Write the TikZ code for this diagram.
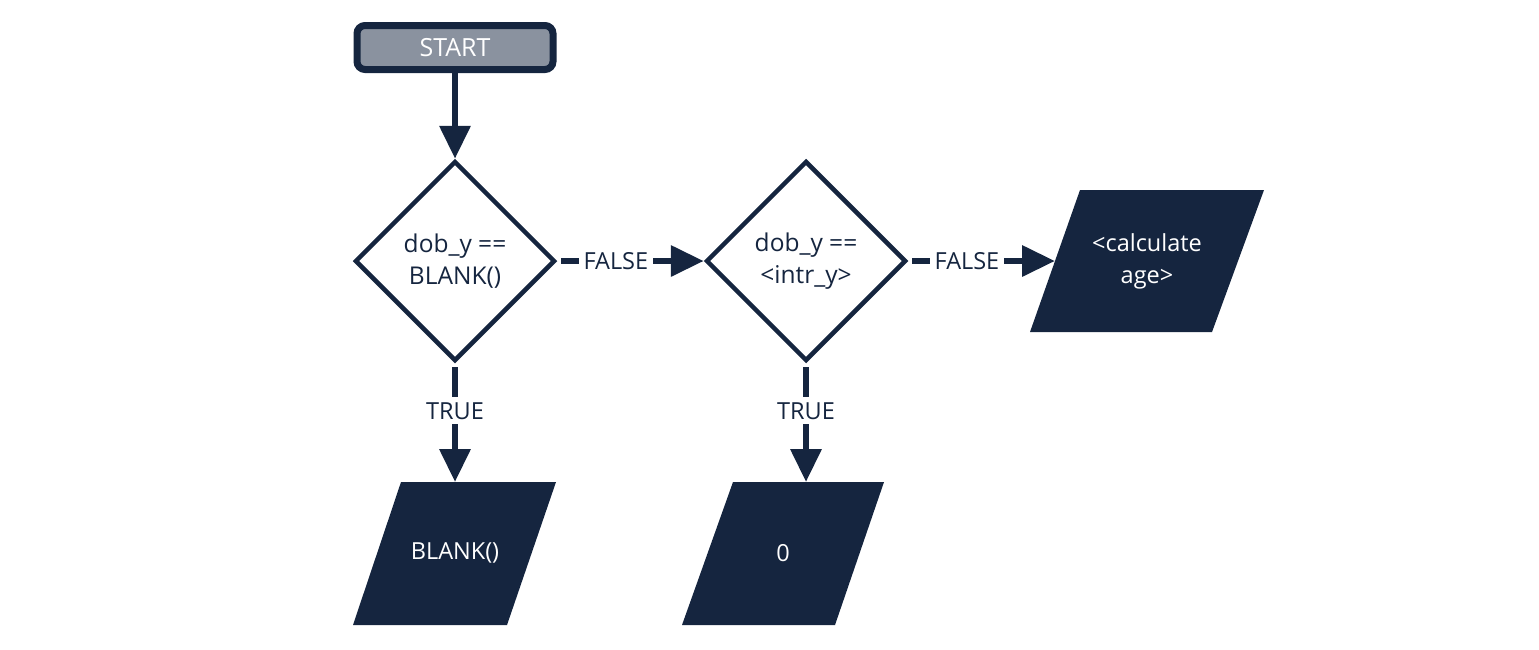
\documentclass[tikz,border=0pt]{standalone}
\usepackage{fontspec}
\setmainfont{Open Sans}
\usetikzlibrary{arrows.meta,shapes.geometric}
\definecolor{navy}{HTML}{15253F}
\definecolor{startgray}{HTML}{8A929F}
\begin{document}
\begin{tikzpicture}[x=1pt,y=-1pt,
  txt/.style={font=\fontsize{23.5}{32}\selectfont},
  startbox/.style={font=\fontsize{25}{30}\selectfont, draw=navy, fill=startgray, text=white, line width=7pt,
    rounded corners=8pt, minimum width=196pt, minimum height=44pt, inner sep=0pt},
  decision/.style={font=\fontsize{24.5}{32}\selectfont, diamond, draw=navy, fill=white, text=navy, line width=4.5pt,
    minimum width=200pt, minimum height=200pt, inner sep=0pt, align=center, aspect=1},
  iotext/.style={txt, text=white, align=center, inner sep=0pt},
  io/.style={fill=navy},
  conn/.style={draw=navy, line width=6.5pt, -{Triangle[length=33pt,width=30pt]}},
  lbl/.style={txt, fill=white, text=navy, inner sep=5pt, pos=0.4}
]
\useasboundingbox (0,0) rectangle (1539,649);
% parallelograms
\fill[io] (401,482) -- (556,482) -- (507,625) -- (353,625) -- cycle;
\fill[io] (733,482) -- (884,482) -- (835,625) -- (682,625) -- cycle;
\fill[io] (1080,190) -- (1264,190) -- (1212,332) -- (1030,332) -- cycle;
\node[iotext] (p1) at (455,553) {BLANK()};
\node[iotext] (p2) at (783,553) {0};
\node[iotext] (p3) at (1147,261) {<calculate\\age>};
\coordinate (p1top) at (455,482);
\coordinate (p2top) at (806,482);
\coordinate (p3left) at (1055,261);

\node[startbox] (start) at (455,47.5) {START};
\node[decision] (d1) at (455,261) {dob\_y ==\\BLANK()};
\node[decision] (d2) at (806,261) {dob\_y ==\\<intr\_y>};

\draw[conn] (start.south) -- (d1.north);
\draw[conn, shorten <=4pt] (d1.east) -- node[lbl] {FALSE} (d2.west);
\draw[conn, shorten <=4pt] (d2.east) -- node[lbl] {FALSE} (p3left);
\draw[conn, shorten <=4pt] (d1.south) -- node[lbl] {TRUE} (p1top);
\draw[conn, shorten <=4pt] (d2.south) -- node[lbl] {TRUE} (p2top);
\end{tikzpicture}
\end{document}
